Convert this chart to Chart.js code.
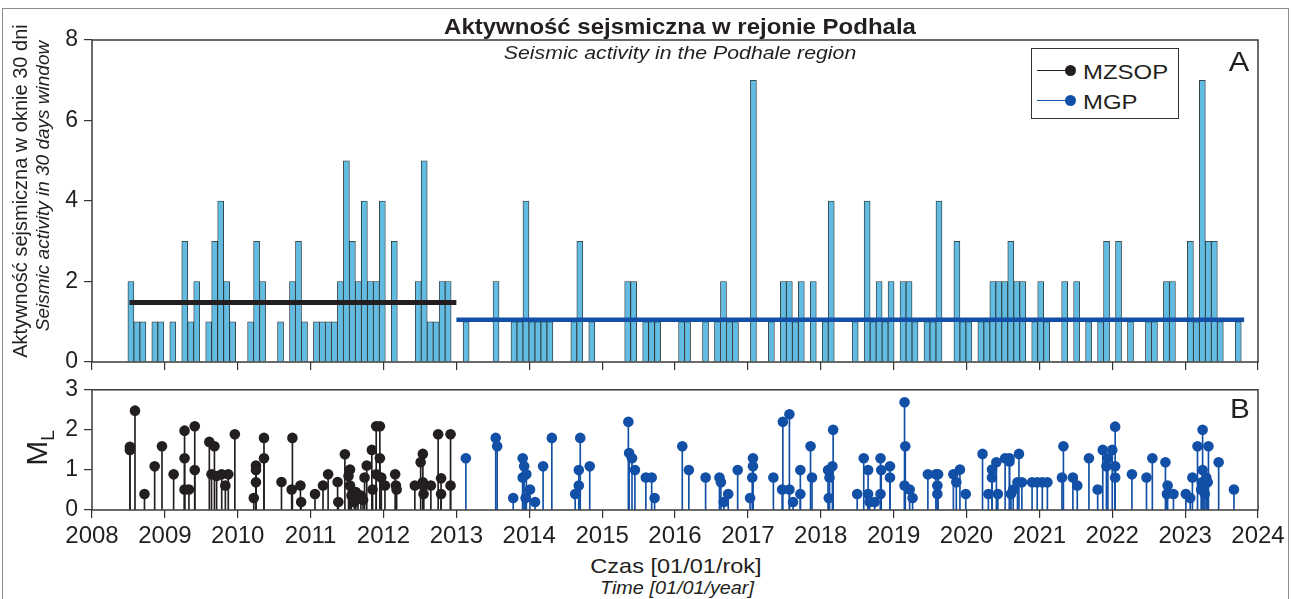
<!DOCTYPE html>
<html><head><meta charset="utf-8">
<script src="https://cdn.jsdelivr.net/npm/chart.js@4.4.0/dist/chart.umd.min.js"></script>
<style>
html,body{margin:0;padding:0;background:#fff;}
body{width:1292px;height:599px;position:relative;overflow:hidden;font-family:"Liberation Sans",Arial,sans-serif;color:#231f20;}
#frame{position:absolute;left:2px;top:8px;width:1285px;height:640px;border:1.5px solid #8c8c8c;}
.t{position:absolute;white-space:nowrap;line-height:1;}
canvas{position:absolute;left:0;}
.lg{position:absolute;}
</style></head><body>
<div id="frame"></div>
<canvas id="chartA" width="1292" height="382" style="top:0px"></canvas>
<canvas id="chartB" width="1292" height="180" style="top:370px"></canvas>

<div class="t" style="left:680px;top:27px;transform:translate(-50%,-50%) scaleX(1.09);font-weight:bold;font-size:22px;">Aktywność sejsmiczna w rejonie Podhala</div>
<div class="t" style="left:680px;top:52px;transform:translate(-50%,-50%) scaleX(1.12);font-style:italic;font-size:19px;">Seismic activity in the Podhale region</div>
<div class="t" style="left:20px;top:191px;transform:translate(-50%,-50%) rotate(-90deg);font-size:20px;">Aktywność sejsmiczna w oknie 30 dni</div>
<div class="t" style="left:42px;top:186px;transform:translate(-50%,-50%) rotate(-90deg);font-style:italic;font-size:19px;">Seismic activity in 30 days window</div>
<div class="t" style="left:37px;top:448px;transform:translate(-50%,-50%) rotate(-90deg);font-size:30px;">M<span style="font-size:19px;position:relative;top:7px;">L</span></div>
<div class="t" style="left:676px;top:565px;transform:translate(-50%,-50%) scaleX(1.12);font-size:21px;">Czas [01/01/rok]</div>
<div class="t" style="left:677px;top:588px;transform:translate(-50%,-50%) scaleX(1.1);font-style:italic;font-size:18px;">Time [01/01/year]</div>
<div class="t" style="left:1239px;top:62px;transform:translate(-50%,-50%) scaleX(1.1);font-size:28px;">A</div>
<div class="t" style="left:1240px;top:409px;transform:translate(-50%,-50%) scaleX(1.1);font-size:27px;">B</div>

<div class="lg" style="left:1031px;top:48px;width:146px;height:69px;border:1.5px solid #333;background:#fff;"></div>
<div class="lg" style="left:1037px;top:70px;width:33px;height:1.2px;background:#231f20;"></div>
<div class="lg" style="left:1064.5px;top:64.5px;width:11px;height:11px;border-radius:50%;background:#231f20;"></div>
<div class="t" style="left:1083px;top:71px;transform:translate(0,-50%) scaleX(1.14);transform-origin:left center;font-size:21px;">MZSOP</div>
<div class="lg" style="left:1037px;top:100px;width:33px;height:1.2px;background:#1150a6;"></div>
<div class="lg" style="left:1064.5px;top:94.5px;width:11px;height:11px;border-radius:50%;background:#1150a6;"></div>
<div class="t" style="left:1083px;top:101px;transform:translate(0,-50%) scaleX(1.14);transform-origin:left center;font-size:21px;">MGP</div>

<script>
// ---------- DATA ----------
const yearTicks = [2008,2009,2010,2011,2012,2013,2014,2015,2016,2017,2018,2019,2020,2021,2022,2023,2024];
const activityTicks = [0,2,4,6,8];
const magnitudeTicks = [0,1,2,3];

// 30-day windows counted from 2008-01-01
const windowStartYear = 2008;
const windowDays = 30;
const activityWindow = [
  6,7,8,10,11,13,15,16,17,19,
  20,21,22,23,26,27,28,31,33,34,
  35,37,38,39,40,41,42,43,44,45,
  46,47,48,50,54,55,56,57,58,59,
  62,67,70,71,72,73,74,75,76,80,
  81,83,89,90,92,93,94,98,99,102,
  104,105,106,107,110,113,115,116,117,118,
  120,122,123,127,129,130,131,132,133,135,
  136,137,139,140,141,144,145,146,148,149,
  150,151,152,153,154,155,157,158,159,162,
  164,166,168,169,171,173,176,177,179,180,
  183,184,185,186,187,188,191];
const activityCount = [
  2,1,1,1,1,1,3,1,2,1,
  3,4,2,1,1,3,2,1,2,3,
  1,1,1,1,1,2,5,3,2,4,
  2,2,4,3,2,5,1,1,2,2,
  1,2,1,1,4,1,1,1,1,1,
  3,1,2,2,1,1,1,1,1,1,
  1,2,1,1,7,1,2,2,1,2,
  2,1,4,1,4,1,2,1,2,2,
  2,1,1,1,4,3,1,1,1,1,
  2,2,2,3,2,2,1,2,1,2,
  2,1,1,3,3,1,1,1,2,2,
  3,1,7,3,3,1,1];

const mzsopMean = 1.48;
const mzsopPeriod = [2008.515, 2013.0];
const mgpMean = 1.05;
const mgpPeriod = [2013.0, 2023.81];

const mzsopTime = [2008.52,2008.52,2008.59,2008.72,2008.86,2008.96,2009.12,2009.27,2009.27,2009.27,
  2009.33,2009.41,2009.41,2009.61,2009.64,2009.68,2009.71,2009.78,2009.83,2009.87,
  2009.96,2010.22,2010.25,2010.25,2010.25,2010.36,2010.36,2010.60,2010.75,2010.74,
  2010.86,2010.87,2011.06,2011.17,2011.24,2011.37,2011.38,2011.47,2011.54,2011.52,
  2011.54,2011.56,2011.60,2011.62,2011.65,2011.69,2011.72,2011.74,2011.77,2011.84,
  2011.85,2011.90,2011.90,2011.95,2011.95,2011.97,2012.02,2012.16,2012.17,2012.18,
  2012.43,2012.51,2012.54,2012.54,2012.55,2012.55,2012.65,2012.75,2012.79,2012.79,
  2012.92,2012.92];
const mzsopMag = [1.58,1.50,2.48,0.40,1.09,1.59,0.89,1.98,1.29,0.51,
  0.51,2.09,1.00,1.70,0.89,1.59,0.85,0.89,0.61,0.89,
  1.89,0.30,1.11,1.00,0.69,1.80,1.29,0.70,1.80,0.51,
  0.61,0.20,0.40,0.61,0.89,0.70,0.20,1.39,1.01,0.85,
  0.61,0.36,0.20,0.45,0.28,0.36,0.25,0.81,1.11,1.50,
  0.51,0.89,2.09,2.09,1.29,0.81,0.61,0.89,0.61,0.51,
  0.61,1.19,1.40,0.69,0.61,0.40,0.61,1.89,0.79,0.40,
  1.89,0.61];

const mgpTime = [2013.13,2013.54,2013.56,2013.78,2013.91,2013.93,2013.91,2013.96,2013.95,2014.01,
  2014.08,2014.19,2014.31,2014.63,2014.68,2014.68,2014.70,2014.83,2015.36,2015.37,
  2015.41,2015.45,2015.60,2015.68,2015.72,2016.10,2016.19,2016.42,2016.61,2016.63,
  2016.67,2016.73,2016.86,2017.03,2017.07,2017.07,2017.06,2017.35,2017.48,2017.47,
  2017.57,2017.57,2017.62,2017.72,2017.72,2017.86,2017.88,2018.10,2018.12,2018.11,
  2018.16,2018.17,2018.50,2018.59,2018.65,2018.65,2018.67,2018.74,2018.82,2018.83,
  2018.82,2018.95,2018.95,2019.15,2019.16,2019.15,2019.22,2019.26,2019.47,2019.58,
  2019.60,2019.60,2019.61,2019.82,2019.86,2019.91,2019.99,2020.22,2020.30,2020.35,
  2020.35,2020.41,2020.43,2020.53,2020.59,2020.59,2020.61,2020.64,2020.70,2020.72,
  2020.76,2020.90,2020.97,2021.04,2021.11,2021.33,2021.31,2021.46,2021.52,2021.68,
  2021.80,2021.87,2021.94,2022.00,2021.92,2022.04,2022.04,2022.04,2022.27,2022.47,
  2022.55,2022.73,2022.76,2022.75,2022.84,2023.01,2023.07,2023.10,2023.17,2023.24,
  2023.24,2023.32,2023.22,2023.23,2023.26,2023.31,2023.27,2023.29,2023.46,2023.67];
const mgpMag = [1.29,1.80,1.59,0.30,1.29,1.09,0.81,0.89,0.30,0.51,
  0.20,1.09,1.80,0.40,0.61,1.00,1.80,1.09,2.20,1.42,
  1.29,1.00,0.81,0.81,0.30,1.59,1.00,0.81,0.81,0.69,
  0.20,0.40,1.00,0.30,1.29,1.09,0.81,0.81,2.20,0.51,
  2.39,0.51,0.20,1.00,0.40,1.59,0.81,1.00,0.81,0.30,
  1.09,2.00,0.40,1.29,1.00,0.40,0.20,0.20,1.29,1.00,
  0.40,1.09,0.81,2.69,1.59,0.61,0.51,0.30,0.89,0.89,
  0.61,0.40,0.89,0.89,0.69,1.01,0.40,1.40,0.40,0.81,
  1.01,1.19,0.40,1.29,1.29,1.21,0.40,0.51,0.69,1.40,
  0.69,0.69,0.69,0.69,0.69,1.59,0.81,0.81,0.61,1.29,
  0.51,1.50,1.29,1.50,1.09,2.08,1.09,0.81,0.89,0.81,
  1.29,1.19,0.61,0.40,0.40,0.40,0.30,0.81,1.59,2.00,
  1.00,1.59,0.51,0.69,0.69,0.69,0.40,0.81,1.19,0.51];

// ---------- STYLE ----------
const INK = '#231f20';
const BLUE = '#1150a6';
const BAR = '#62bbe0';
Chart.defaults.font.family = '"Liberation Sans", Arial, sans-serif';
Chart.defaults.color = INK;

const framePlugin = {
  id: 'frameBox',
  afterDatasetsDraw(chart) {
    const {ctx, chartArea: a} = chart;
    ctx.save();
    ctx.strokeStyle = '#3a3a3a';
    ctx.lineWidth = 1.5;
    ctx.strokeRect(a.left, a.top, a.right - a.left, a.bottom - a.top);
    ctx.restore();
  }
};

function xScale(showLabels, h) {
  return {
    type: 'linear', min: 2008, max: 2024, offset: false,
    afterBuildTicks: s => { s.ticks = yearTicks.map(v => ({value: v})); },
    ticks: {display: showLabels, font: {size: 24}, color: INK, padding: 4, maxRotation: 0, autoSkip: false, callback: v => String(v)},
    grid: {display: true, drawOnChartArea: false, drawTicks: true, tickLength: 8, color: '#333', lineWidth: 1.2, offset: false},
    border: {display: false},
    afterFit: s => { s.height = h; }
  };
}
function yScale(max, ticksArr) {
  return {
    type: 'linear', min: 0, max: max,
    afterBuildTicks: s => { s.ticks = ticksArr.map(v => ({value: v})); },
    ticks: {font: {size: 23}, color: INK, padding: 6, callback: v => String(v)},
    grid: {display: true, drawOnChartArea: false, drawTicks: true, tickLength: 8, color: '#333', lineWidth: 1.2},
    border: {display: false},
    afterFit: s => { s.width = 92; }
  };
}

const barPoints = activityWindow.map((k, i) => ({
  x: windowStartYear + (k + 0.5) * windowDays / 365.25,
  y: activityCount[i]
}));

new Chart(document.getElementById('chartA'), {
  type: 'bar',
  data: {
    datasets: [
      {type: 'line', label: 'MZSOP', data: [{x: mzsopPeriod[0], y: mzsopMean}, {x: mzsopPeriod[1], y: mzsopMean}],
       borderColor: INK, borderWidth: 5, pointRadius: 0, borderCapStyle: 'butt', order: 0},
      {type: 'line', label: 'MGP', data: [{x: mgpPeriod[0], y: mgpMean}, {x: mgpPeriod[1], y: mgpMean}],
       borderColor: BLUE, borderWidth: 4.5, pointRadius: 0, borderCapStyle: 'butt', order: 0},
      {type: 'bar', label: 'activity', data: barPoints, backgroundColor: BAR, borderColor: '#2a2a2a',
       borderWidth: 0.8, barPercentage: 1, categoryPercentage: 1, order: 2}
    ]
  },
  options: {
    responsive: false, animation: false, devicePixelRatio: 1,
    layout: {padding: {left: 0, right: 34, top: 40, bottom: 0}},
    plugins: {legend: {display: false}, tooltip: {enabled: false}},
    scales: {x: xScale(false, 20), y: yScale(8, activityTicks)}
  },
  plugins: [framePlugin]
});

new Chart(document.getElementById('chartB'), {
  type: 'bar',
  data: {
    datasets: [
      {type: 'scatter', label: 'MZSOP pts', data: mzsopTime.map((t, i) => ({x: t, y: mzsopMag[i]})),
       backgroundColor: INK, borderWidth: 0, pointRadius: 5.3, order: 0},
      {type: 'scatter', label: 'MGP pts', data: mgpTime.map((t, i) => ({x: t, y: mgpMag[i]})),
       backgroundColor: BLUE, borderWidth: 0, pointRadius: 5.3, order: 0},
      {type: 'bar', label: 'MZSOP', data: mzsopTime.map((t, i) => ({x: t, y: mzsopMag[i]})),
       backgroundColor: INK, borderWidth: 0, barThickness: 1, grouped: false, order: 1},
      {type: 'bar', label: 'MGP', data: mgpTime.map((t, i) => ({x: t, y: mgpMag[i]})),
       backgroundColor: BLUE, borderWidth: 0, barThickness: 1, grouped: false, order: 1}
    ]
  },
  options: {
    responsive: false, animation: false, devicePixelRatio: 1,
    layout: {padding: {left: 0, right: 34, top: 16.5, bottom: 0}},
    plugins: {legend: {display: false}, tooltip: {enabled: false}},
    scales: {x: xScale(true, 40), y: yScale(3, magnitudeTicks)}
  },
  plugins: [framePlugin]
});
</script>
</body></html>
